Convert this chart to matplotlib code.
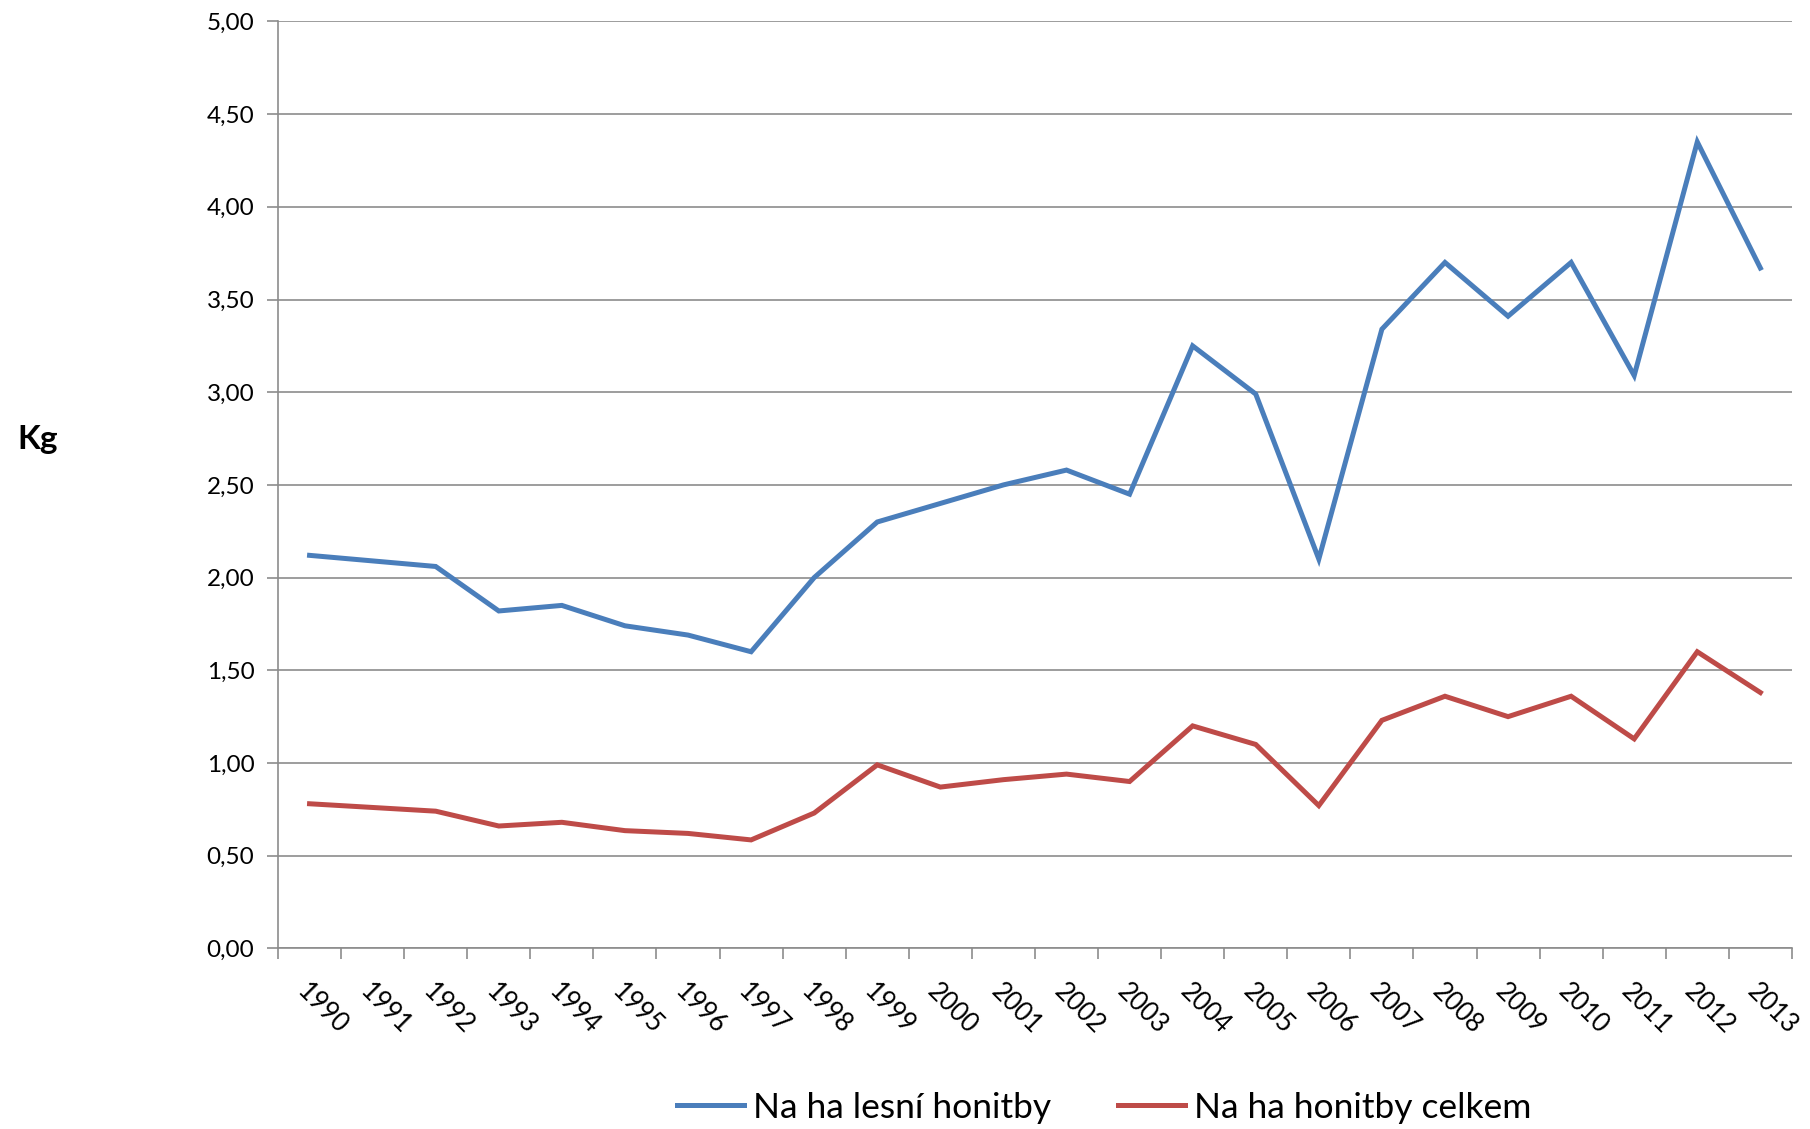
import matplotlib.pyplot as plt
import numpy as np
from matplotlib.ticker import FuncFormatter, FixedLocator, NullFormatter

plt.rcParams['font.family'] = ['Lato', 'DejaVu Sans']

years = [str(y) for y in range(1990, 2014)]
lesni = [2.12, 2.09, 2.06, 1.82, 1.85, 1.74, 1.69, 1.60, 2.00, 2.30, 2.40, 2.50,
         2.58, 2.45, 3.25, 2.99, 2.10, 3.34, 3.70, 3.41, 3.70, 3.09, 4.35, 3.67]
celkem = [0.78, 0.76, 0.74, 0.66, 0.68, 0.635, 0.62, 0.585, 0.73, 0.99, 0.87, 0.91,
          0.94, 0.90, 1.20, 1.10, 0.77, 1.23, 1.36, 1.25, 1.36, 1.13, 1.60, 1.38]

x = np.arange(len(years))

fig = plt.figure(figsize=(18.1, 11.29), dpi=100)
ax = fig.add_axes([0.1536, 0.160, 0.8364, 0.821])

ax.plot(x, lesni, color='#4a7ebb', lw=3.6, label='Na ha lesní honitby', solid_joinstyle='miter')
ax.plot(x, celkem, color='#be4b48', lw=3.6, label='Na ha honitby celkem', solid_joinstyle='miter')

ax.set_xlim(-0.5, len(years) - 0.5)
ax.set_ylim(0, 5)
ax.set_yticks(np.arange(0, 5.01, 0.5))
ax.yaxis.set_major_formatter(FuncFormatter(lambda v, p: f'{v:.2f}'.replace('.', ',')))
ax.grid(axis='y', color='#8c8c8c', lw=1.2)
ax.set_axisbelow(True)

# category boundaries as ticks, labels at centers
ax.xaxis.set_major_locator(FixedLocator(np.arange(-0.5, len(years), 1)))
ax.xaxis.set_major_formatter(NullFormatter())
ax.xaxis.set_minor_locator(FixedLocator(x))
ax.set_xticklabels(years, minor=True, rotation=-45, ha='left', va='top',
                   rotation_mode='anchor', fontsize=18.5)
ax.tick_params(axis='x', which='minor', length=0, pad=22)
ax.tick_params(axis='x', which='major', length=8, width=1.2, color='#8c8c8c')
ax.tick_params(axis='y', length=8, width=1.2, color='#8c8c8c', labelsize=17.5, pad=9)

for s in ['top', 'right']:
    ax.spines[s].set_visible(False)
for s in ['left', 'bottom']:
    ax.spines[s].set_color('#8c8c8c')
    ax.spines[s].set_linewidth(1.2)

fig.text(0.021, 0.611, 'Kg', fontsize=24, fontweight='bold', ha='center', va='center')

fig.legend(loc='center', bbox_to_anchor=(0.610, 0.019), ncol=2, frameon=False,
           fontsize=25.5, handlelength=1.9, columnspacing=1.9, handletextpad=0.25)

plt.savefig('out.png', dpi=100)
